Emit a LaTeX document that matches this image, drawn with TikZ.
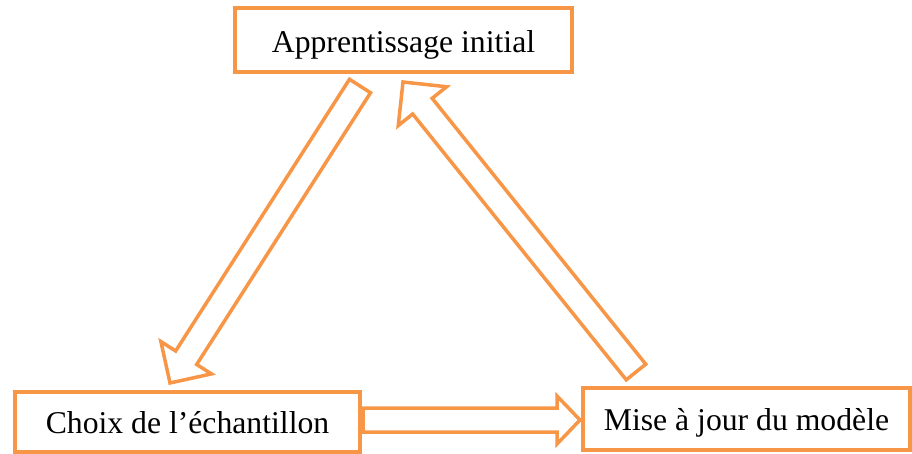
\documentclass[tikz,border=0pt]{standalone}
\usepackage{fontspec}
\setmainfont{Liberation Serif}
\usetikzlibrary{calc}
\definecolor{acc}{HTML}{F79646}
\newcommand{\blockarrow}[6]{% name, tail, tip, half shaft, half head, head length
  \coordinate (#1c) at ($(#3)!#6!(#2)$);
  \draw[arrowline] ($(#2)!#4!90:(#3)$) -- ($(#1c)!#4!90:(#3)$) -- ($(#1c)!#5!90:(#3)$)
    -- (#3) -- ($(#1c)!#5!-90:(#3)$) -- ($(#1c)!#4!-90:(#3)$) -- ($(#2)!#4!-90:(#3)$) -- cycle;
}
\begin{document}
\begin{tikzpicture}[x=1pt,y=-1pt,
  boxnode/.style={draw=acc, line width=4pt, fill=white, inner sep=0pt,
    font=\fontsize{31.7}{38}\selectfont, text height=22pt, text depth=0pt},
  arrowline/.style={draw=acc, line width=3.5pt, line join=miter, fill=white}]
\useasboundingbox (0,0) rectangle (912,454);
\node[boxnode, minimum width=337pt, minimum height=64pt, text height=26pt] (ai) at (403.5,40) {Apprentissage initial};
\node[boxnode, minimum width=345pt, minimum height=60pt] (ce) at (187.5,422) {Choix de l’échantillon};
\node[boxnode, minimum width=327pt, minimum height=62pt] (mj) at (746.5,419) {Mise à jour du modèle};
\coordinate (a1) at (360,86);
\coordinate (b1) at (170,383);
\coordinate (a2) at (636,372);
\coordinate (b2) at (403,82);
\coordinate (a3) at (363,420);
\coordinate (b3) at (580,420);
\blockarrow{ar1}{a1}{b1}{12.5pt}{30pt}{30pt}
\blockarrow{ar2}{a2}{b2}{12.5pt}{31pt}{31pt}
\blockarrow{ar3}{a3}{b3}{12pt}{24pt}{23pt}
\end{tikzpicture}
\end{document}
